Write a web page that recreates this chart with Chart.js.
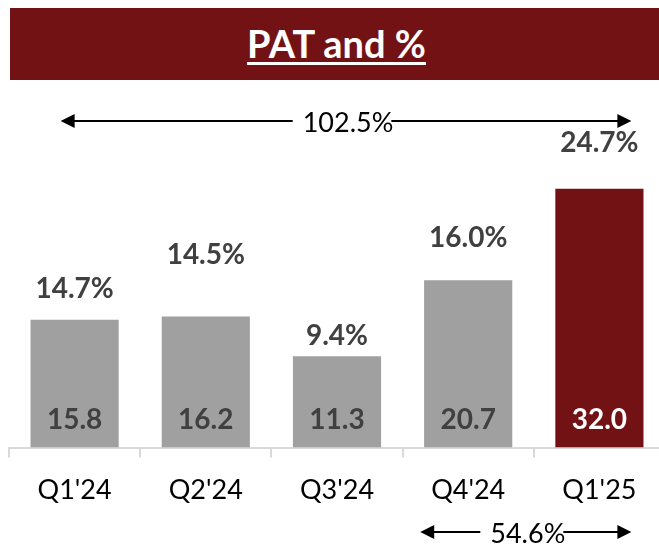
<!DOCTYPE html>
<html lang="en">
<head>
    <meta charset="UTF-8">
    <title>PAT and %</title>
    <script src="https://cdn.jsdelivr.net/npm/chart.js"></script>
    <style>
        html, body { margin: 0; padding: 0; overflow: hidden; background: #fff; width: 659px; height: 545px; }
        .banner {
            position: absolute; left: 10px; top: 8px; width: 649px; height: 72px;
            background: #731214;
        }
        .banner h1 {
            position: absolute; left: 4px; right: 0; top: 14px; margin: 0;
            font: bold 38px Lato, sans-serif; line-height: 43px;
            color: #fff; text-align: center;
            text-decoration: underline; text-decoration-thickness: 3px; text-underline-offset: 4px;
        }
        .chart-box { position: absolute; left: 0; top: 0; width: 680px; height: 545px; }
    </style>
</head>
<body>
    <div class="chart-box">
        <canvas id="patChart"></canvas>
    </div>
    <div class="banner"><h1>PAT and %</h1></div>

    <script>
        const quarters = ["Q1'24", "Q2'24", "Q3'24", "Q4'24", "Q1'25"];
        const patValues = [15.8, 16.2, 11.3, 20.7, 32.0];
        const patMargin = [14.7, 14.5, 9.4, 16.0, 24.7];
        const growthFrom = [0, 3];
        const growthTo = [4, 4];
        const growthPct = [102.5, 54.6];

        const GRAY = '#A0A0A0';
        const RED = '#731214';
        const TEXT = '#404040';

        // how far each margin label sits above its bar (px, baseline to bar top)
        const marginLift = [22, 53, 11, 33, 37];
        // arrow placement relative to category centres
        const arrowRows = [
            { y: 121, base: 132, padFrom: -14, padTo: 32, gapL: 10, gapR: 2 },
            { y: 532, base: 543, padFrom: -48, padTo: 32, gapL: 10, gapR: 2 }
        ];

        function drawArrowHead(ctx, x, y, dir) {
            ctx.beginPath();
            ctx.moveTo(x, y);
            ctx.lineTo(x - dir * 14, y - 7);
            ctx.lineTo(x - dir * 14, y + 7);
            ctx.closePath();
            ctx.fill();
        }

        const labelPlugin = {
            id: 'patLabels',
            afterDatasetsDraw(chart) {
                const ctx = chart.ctx;
                const meta = chart.getDatasetMeta(0);
                const xScale = chart.scales.x;
                const base = chart.scales.y.getPixelForValue(0);
                ctx.save();
                ctx.textAlign = 'center';
                ctx.textBaseline = 'alphabetic';
                ctx.font = 'bold 28px Lato, sans-serif';
                meta.data.forEach((bar, i) => {
                    ctx.fillStyle = i === 4 ? '#fff' : TEXT;
                    ctx.fillText(patValues[i].toFixed(1), bar.x, base - 19);
                    ctx.fillStyle = TEXT;
                    ctx.fillText(patMargin[i].toFixed(1) + '%', bar.x, bar.y - marginLift[i]);
                });

                ctx.font = '27px Lato, sans-serif';
                ctx.fillStyle = '#000';
                ctx.strokeStyle = '#000';
                ctx.lineWidth = 2;
                growthPct.forEach((g, k) => {
                    const row = arrowRows[k];
                    const x0 = xScale.getPixelForValue(growthFrom[k]) + row.padFrom;
                    const x1 = xScale.getPixelForValue(growthTo[k]) + row.padTo;
                    const mid = (x0 + x1) / 2 + 2;
                    const text = g.toFixed(1) + '%';
                    const w = ctx.measureText(text).width;
                    ctx.fillText(text, mid, row.base);
                    ctx.beginPath();
                    ctx.moveTo(x0 + 10, row.y);
                    ctx.lineTo(mid - w / 2 - row.gapL, row.y);
                    ctx.moveTo(mid + w / 2 - row.gapR, row.y);
                    ctx.lineTo(x1 - 10, row.y);
                    ctx.stroke();
                    drawArrowHead(ctx, x0, row.y, -1);
                    drawArrowHead(ctx, x1, row.y, 1);
                });
                ctx.restore();
            }
        };

        new Chart(document.getElementById('patChart'), {
            type: 'bar',
            data: {
                labels: quarters,
                datasets: [{
                    label: 'PAT',
                    data: patValues,
                    backgroundColor: patValues.map((v, i) => i === patValues.length - 1 ? RED : GRAY),
                    barPercentage: 0.672,
                    categoryPercentage: 1.0
                }]
            },
            options: {
                responsive: true,
                maintainAspectRatio: false,
                animation: false,
                layout: { padding: { top: 124, left: 9, right: 15, bottom: 23 } },
                plugins: {
                    legend: { display: false },
                    tooltip: { enabled: false }
                },
                scales: {
                    y: { display: false, min: 0, max: 40 },
                    x: {
                        grid: {
                            display: true,
                            drawOnChartArea: false,
                            drawTicks: true,
                            tickLength: 10,
                            color: '#D9D9D9',
                            lineWidth: 2,
                            offset: true
                        },
                        border: { display: true, color: '#D9D9D9', width: 2 },
                        ticks: {
                            color: '#000',
                            font: { family: 'Lato, sans-serif', size: 27 },
                            padding: 16
                        }
                    }
                }
            },
            plugins: [labelPlugin]
        });
    </script>
</body>
</html>
